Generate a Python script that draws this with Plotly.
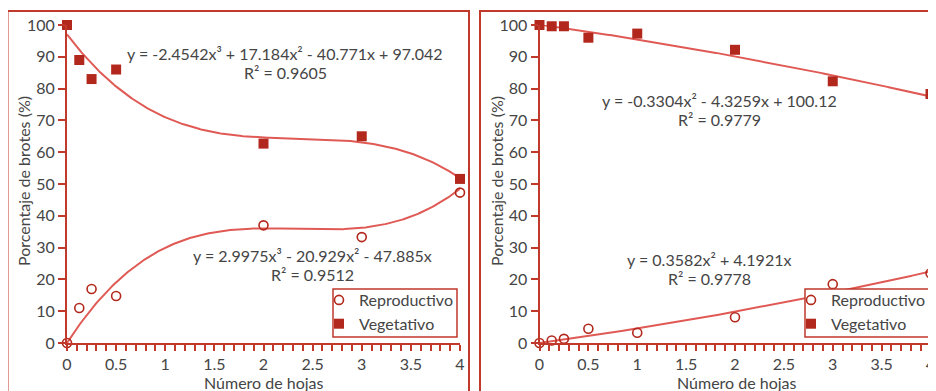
import numpy as np
import plotly.graph_objects as go

# ---- data ----
hojas_left = [0, 0.125, 0.25, 0.5, 2, 3, 4]
repro_left = [0, 11, 17, 14.8, 37, 33.3, 47.3]
veget_left = [100, 89, 83, 86, 62.7, 65, 51.6]

hojas_right = [0, 0.125, 0.25, 0.5, 1, 2, 3, 4]
repro_right = [0, 0.8, 1.3, 4.5, 3.2, 8.1, 18.5, 21.9]
veget_right = [100, 99.6, 99.6, 96, 97.3, 92.2, 82.3, 78.3]

# fitted trendline coefficients (highest power first), as printed in the chart
coef_veget_left = [-2.4542, 17.184, -40.771, 97.042]
coef_repro_left = [2.9975, -20.929, 47.885, 0]
coef_veget_right = [-0.3304, -4.3259, 100.12]
coef_repro_right = [0.3582, 4.1921, 0]

eq_veget_left = ["y = -2.4542x³ + 17.184x² - 40.771x + 97.042", "R² = 0.9605"]
eq_repro_left = ["y = 2.9975x³ - 20.929x² - 47.885x", "R² = 0.9512"]
eq_veget_right = ["y = -0.3304x² - 4.3259x + 100.12", "R² = 0.9779"]
eq_repro_right = ["y = 0.3582x² + 4.1921x", "R² = 0.9778"]

x_ticks = [0, 0.5, 1, 1.5, 2, 2.5, 3, 3.5, 4]
x_ticktext = ["0", "0.5", "1", "1.5", "2", "2.5", "3", "3.5", "4"]
y_ticks = list(range(0, 101, 10))

# ---- style ----
OFF = 8                      # page body margin
W, H = 936 - OFF, 391 - OFF  # figure size
FONT = "Lato"
TXT = "#454545"
AXC = "#C0392B"
LINEC = "#E05A55"
MARKC = "#B3281C"


def px(x):
    return (x - OFF) / W


def py(y):
    return 1 - (y - OFF) / H


xs = np.linspace(0, 4, 300)

fig = go.Figure()


def add_panel(xa, ya, legend, hx, rep, veg, crep, cveg):
    fig.add_trace(go.Scatter(x=xs, y=np.polyval(cveg, xs), mode="lines",
                             line=dict(color=LINEC, width=2), showlegend=False,
                             xaxis=xa, yaxis=ya, hoverinfo="skip"))
    fig.add_trace(go.Scatter(x=xs, y=np.polyval(crep, xs), mode="lines",
                             line=dict(color=LINEC, width=2), showlegend=False,
                             xaxis=xa, yaxis=ya, hoverinfo="skip"))
    fig.add_trace(go.Scatter(x=hx, y=rep, mode="markers", name="Reproductivo",
                             marker=dict(symbol="circle-open", size=9,
                                         color=MARKC, line=dict(width=1.6, color=MARKC)),
                             xaxis=xa, yaxis=ya, legend=legend, cliponaxis=False))
    fig.add_trace(go.Scatter(x=hx, y=veg, mode="markers", name="Vegetativo",
                             marker=dict(symbol="square", size=10, color=MARKC),
                             xaxis=xa, yaxis=ya, legend=legend, cliponaxis=False))


add_panel("x", "y", "legend", hojas_left, repro_left, veget_left, coef_repro_left, coef_veget_left)
add_panel("x2", "y2", "legend2", hojas_right, repro_right, veget_right, coef_repro_right, coef_veget_right)


def xaxis_def(x0, x1, anchor):
    return dict(domain=[px(x0), px(x1)], range=[0, 4], anchor=anchor,
                tickvals=x_ticks, ticktext=x_ticktext, ticks="outside", ticklen=6,
                tickwidth=1.5, tickcolor=AXC, showline=True, linecolor=AXC, linewidth=2,
                showgrid=False, zeroline=False,
                minor=dict(ticks="outside", dtick=0.1, tick0=0, ticklen=6, tickwidth=1.5,
                           tickcolor=AXC, showgrid=False),
                tickfont=dict(family=FONT, size=16, color=TXT), automargin=False)


def yaxis_def(anchor):
    return dict(domain=[py(343), py(25)], range=[0, 100], anchor=anchor,
                tickvals=y_ticks, ticks="outside", ticklen=7, tickwidth=1.5, tickcolor=AXC,
                showline=True, linecolor=AXC, linewidth=2, showgrid=False, zeroline=False,
                tickfont=dict(family=FONT, size=16, color=TXT), automargin=False)


ann = []


def label(x, y, text, size=16, angle=0):
    ann.append(dict(x=px(x), y=py(y), xref="paper", yref="paper", text=text,
                    showarrow=False, xanchor="center", yanchor="middle", textangle=angle,
                    font=dict(family=FONT, size=size, color=TXT)))


label(285, 53, eq_veget_left[0]); label(285, 73, eq_veget_left[1])
label(312, 255.5, eq_repro_left[0]); label(312, 274.5, eq_repro_left[1])
label(719, 100.5, eq_veget_right[0]); label(719, 119.5, eq_veget_right[1])
label(709, 259.5, eq_repro_right[0]); label(709, 278.5, eq_repro_right[1])
label(264, 382, "Número de hojas"); label(737, 382, "Número de hojas")
label(24, 181, "Porcentaje de brotes (%)", angle=-90)
label(497, 181, "Porcentaje de brotes (%)", angle=-90)

legend_common = dict(bgcolor="rgba(0,0,0,0)", borderwidth=0,
                     font=dict(family=FONT, size=16, color=TXT), itemwidth=30,
                     xanchor="left", yanchor="top", tracegroupgap=0, traceorder="normal")

shapes = [
    dict(type="rect", xref="paper", yref="paper", x0=px(7.5), x1=px(469), y0=py(400), y1=py(11),
         line=dict(color=AXC, width=2), layer="below"),
    dict(type="rect", xref="paper", yref="paper", x0=px(480), x1=px(950), y0=py(400), y1=py(11),
         line=dict(color=AXC, width=2), layer="below"),
    # legend boxes
    dict(type="rect", xref="paper", yref="paper", x0=px(333), x1=px(457), y0=py(337), y1=py(289),
         line=dict(color=AXC, width=1.5), fillcolor="white", layer="above"),
    dict(type="rect", xref="paper", yref="paper", x0=px(805), x1=px(929), y0=py(337), y1=py(289),
         line=dict(color=AXC, width=1.5), fillcolor="white", layer="above"),
]

fig.update_layout(
    width=W, height=H, margin=dict(l=0, r=0, t=0, b=0),
    paper_bgcolor="white", plot_bgcolor="white",
    xaxis=xaxis_def(67, 460, "y"), yaxis=yaxis_def("x"),
    xaxis2=xaxis_def(539.5, 930.5, "y2"), yaxis2=yaxis_def("x2"),
    legend=dict(x=px(319), y=py(283), **legend_common),
    legend2=dict(x=px(791), y=py(283), **legend_common),
    annotations=ann,
    shapes=shapes,
    hovermode=False,
)

fig.write_html("out.html")
